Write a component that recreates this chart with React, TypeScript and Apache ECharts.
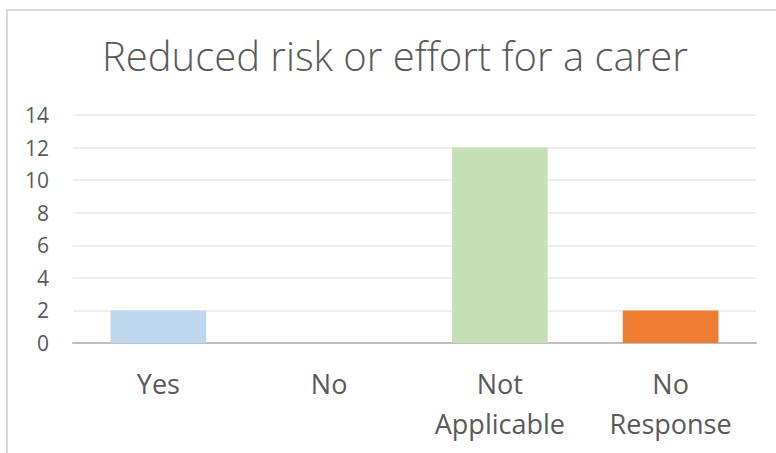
import React, { useEffect, useRef } from "react";
import * as echarts from "echarts";

const title = "Reduced risk or effort for a carer";
const categories = ["Yes", "No", "Not\nApplicable", "No\nResponse"];
const values = [2, 0, 12, 2];
const barColors = ["#bdd7ee", "#a5a5a5", "#c5e0b4", "#ed7d31"];
const yTicks = { min: 0, max: 14, interval: 2 };

export default function App() {
  const ref = useRef<HTMLDivElement>(null);
  useEffect(() => {
    if (!ref.current) return;
    const chart = echarts.init(ref.current, undefined, { renderer: "svg" });
    const font = "'Open Sans', sans-serif";
    chart.setOption({
      animation: false,
      backgroundColor: "#ffffff",
      title: {
        text: title,
        left: 97,
        top: 30,
        textStyle: {
          fontFamily: font,
          fontWeight: 300,
          fontSize: 40,
          color: "#595959",
        },
      },
      graphic: [
        {
          type: "rect",
          shape: { x: 7, y: 10, width: 820, height: 520 },
          style: { fill: "none", stroke: "#d9d9d9", lineWidth: 2 },
          silent: true,
        },
      ],
      grid: { left: 73, right: 20, top: 115, bottom: 110, containLabel: false },
      xAxis: {
        type: "category",
        data: categories,
        axisLine: { lineStyle: { color: "#bfbfbf", width: 2 } },
        axisTick: { show: false },
        axisLabel: {
          fontFamily: font,
          fontSize: 27,
          color: "#595959",
          lineHeight: 40,
          margin: 20,
          verticalAlign: "top",
          interval: 0,
        },
      },
      yAxis: {
        type: "value",
        min: yTicks.min,
        max: yTicks.max,
        interval: yTicks.interval,
        axisLine: { show: false },
        axisTick: { show: false },
        axisLabel: {
          fontFamily: font,
          fontSize: 21,
          color: "#595959",
          margin: 24,
        },
        splitLine: { lineStyle: { color: "#e8e8e8", width: 1.5 } },
      },
      series: [
        {
          type: "bar",
          data: values.map((v, i) => ({ value: v, itemStyle: { color: barColors[i] } })),
          barCategoryGap: "44%",
        },
      ],
    });
    return () => chart.dispose();
  }, []);
  return (
    <div
      ref={ref}
      style={{ position: "fixed", left: 0, top: 0, width: 776, height: 453 }}
    />
  );
}
